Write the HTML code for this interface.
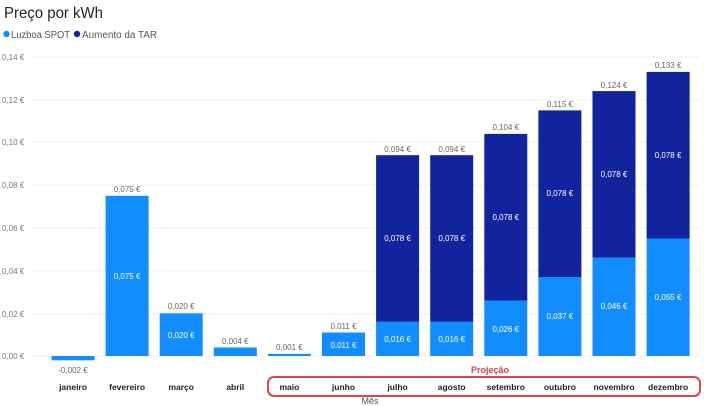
<!DOCTYPE html>
<html><head><meta charset="utf-8"><style>
html,body{margin:0;padding:0;background:#fff;}
svg{display:block;font-family:"Liberation Sans","DejaVu Sans",sans-serif;}
.ax{font-size:8px;fill:#777;}
.lb{font-size:8px;fill:#666;text-anchor:middle;}
.in{font-size:8px;fill:#fff;text-anchor:middle;}
.mo{font-size:8.5px;fill:#222;font-weight:bold;text-anchor:middle;}
.g{stroke:#ccc;stroke-width:1;stroke-dasharray:1 3;}
.l{fill:#118DFF;}
.d{fill:#12239E;}
</style></head><body>
<svg width="704" height="406" viewBox="0 0 704 406">
<text x="4" y="18" font-size="16" fill="#252423" textLength="99" lengthAdjust="spacingAndGlyphs">Preço por kWh</text>
<circle cx="6.5" cy="34" r="3.2" fill="#118DFF"/><text x="11" y="38" font-size="10" fill="#555" textLength="59" lengthAdjust="spacingAndGlyphs">Luzboa SPOT</text>
<circle cx="77" cy="34" r="3.2" fill="#12239E"/><text x="82" y="38" font-size="10" fill="#555" textLength="75" lengthAdjust="spacingAndGlyphs">Aumento da TAR</text>
<g>
<line class="g" x1="33" x2="698" y1="57" y2="57"/><line class="g" x1="33" x2="698" y1="100" y2="100"/>
<line class="g" x1="33" x2="698" y1="142" y2="142"/><line class="g" x1="33" x2="698" y1="185" y2="185"/>
<line class="g" x1="33" x2="698" y1="228" y2="228"/><line class="g" x1="33" x2="698" y1="271" y2="271"/>
<line class="g" x1="33" x2="698" y1="314" y2="314"/><line class="g" x1="33" x2="698" y1="356" y2="356"/>
</g>
<g class="ax">
<text x="2" y="60">0,14 €</text><text x="2" y="103">0,12 €</text><text x="2" y="145">0,10 €</text>
<text x="2" y="188">0,08 €</text><text x="2" y="231">0,06 €</text><text x="2" y="274">0,04 €</text>
<text x="2" y="317">0,02 €</text><text x="2" y="359">0,00 €</text>
</g>
<rect class="l" x="51.5" y="356" width="43" height="4.3"/>
<rect class="l" x="105.6" y="195.8" width="43" height="160.2"/>
<rect class="l" x="159.7" y="313.3" width="43" height="42.7"/>
<rect class="l" x="213.8" y="347.5" width="43" height="8.5"/>
<rect class="l" x="267.9" y="353.9" width="43" height="2.1"/>
<rect class="l" x="322" y="332.5" width="43" height="23.5"/>
<rect class="l" x="376.1" y="321.8" width="43" height="34.2"/>
<rect class="d" x="376.1" y="155.2" width="43" height="166.6"/>
<rect class="l" x="430.2" y="321.8" width="43" height="34.2"/>
<rect class="d" x="430.2" y="155.2" width="43" height="166.6"/>
<rect class="l" x="484.3" y="300.5" width="43" height="55.5"/>
<rect class="d" x="484.3" y="133.9" width="43" height="166.6"/>
<rect class="l" x="538.4" y="277" width="43" height="79"/>
<rect class="d" x="538.4" y="110.4" width="43" height="166.6"/>
<rect class="l" x="592.5" y="257.7" width="43" height="98.3"/>
<rect class="d" x="592.5" y="91.1" width="43" height="166.6"/>
<rect class="l" x="646.6" y="238.5" width="43" height="117.5"/>
<rect class="d" x="646.6" y="71.9" width="43" height="166.6"/>
<g class="lb">
<text x="73" y="373">-0,002 €</text>
<text x="127.1" y="192">0,075 €</text>
<text x="181.2" y="309">0,020 €</text>
<text x="235.3" y="344">0,004 €</text>
<text x="289.4" y="350">0,001 €</text>
<text x="343.5" y="329">0,011 €</text>
<text x="397.6" y="152">0,094 €</text>
<text x="451.7" y="152">0,094 €</text>
<text x="505.8" y="130">0,104 €</text>
<text x="559.9" y="107">0,115 €</text>
<text x="614" y="88">0,124 €</text>
<text x="668.1" y="68">0,133 €</text>
</g>
<g class="in">
<text x="127.1" y="279">0,075 €</text>
<text x="181.2" y="338">0,020 €</text>
<text x="343.5" y="348">0,011 €</text>
<text x="397.6" y="342">0,016 €</text>
<text x="451.7" y="342">0,016 €</text>
<text x="505.8" y="332">0,026 €</text>
<text x="559.9" y="319">0,037 €</text>
<text x="614" y="309">0,046 €</text>
<text x="668.1" y="300">0,055 €</text>
<text x="397.6" y="241">0,078 €</text>
<text x="451.7" y="241">0,078 €</text>
<text x="505.8" y="220">0,078 €</text>
<text x="559.9" y="196">0,078 €</text>
<text x="614" y="177">0,078 €</text>
<text x="668.1" y="158">0,078 €</text>
</g>
<text x="490" y="373" font-size="9" font-weight="bold" fill="#D64550" text-anchor="middle">Projeção</text>
<rect x="268" y="377" width="432" height="19" rx="6" ry="6" fill="none" stroke="#D64550" stroke-width="2"/>
<g class="mo">
<text x="73" y="390">janeiro</text><text x="127.1" y="390">fevereiro</text><text x="181.2" y="390">março</text>
<text x="235.3" y="390">abril</text><text x="289.4" y="390">maio</text><text x="343.5" y="390">junho</text>
<text x="397.6" y="390">julho</text><text x="451.7" y="390">agosto</text><text x="505.8" y="390">setembro</text>
<text x="559.9" y="390">outubro</text><text x="614" y="390">novembro</text><text x="668.1" y="390">dezembro</text>
</g>
<text x="370" y="404" font-size="9" fill="#555" text-anchor="middle">Mês</text>
</svg>
</body></html>
